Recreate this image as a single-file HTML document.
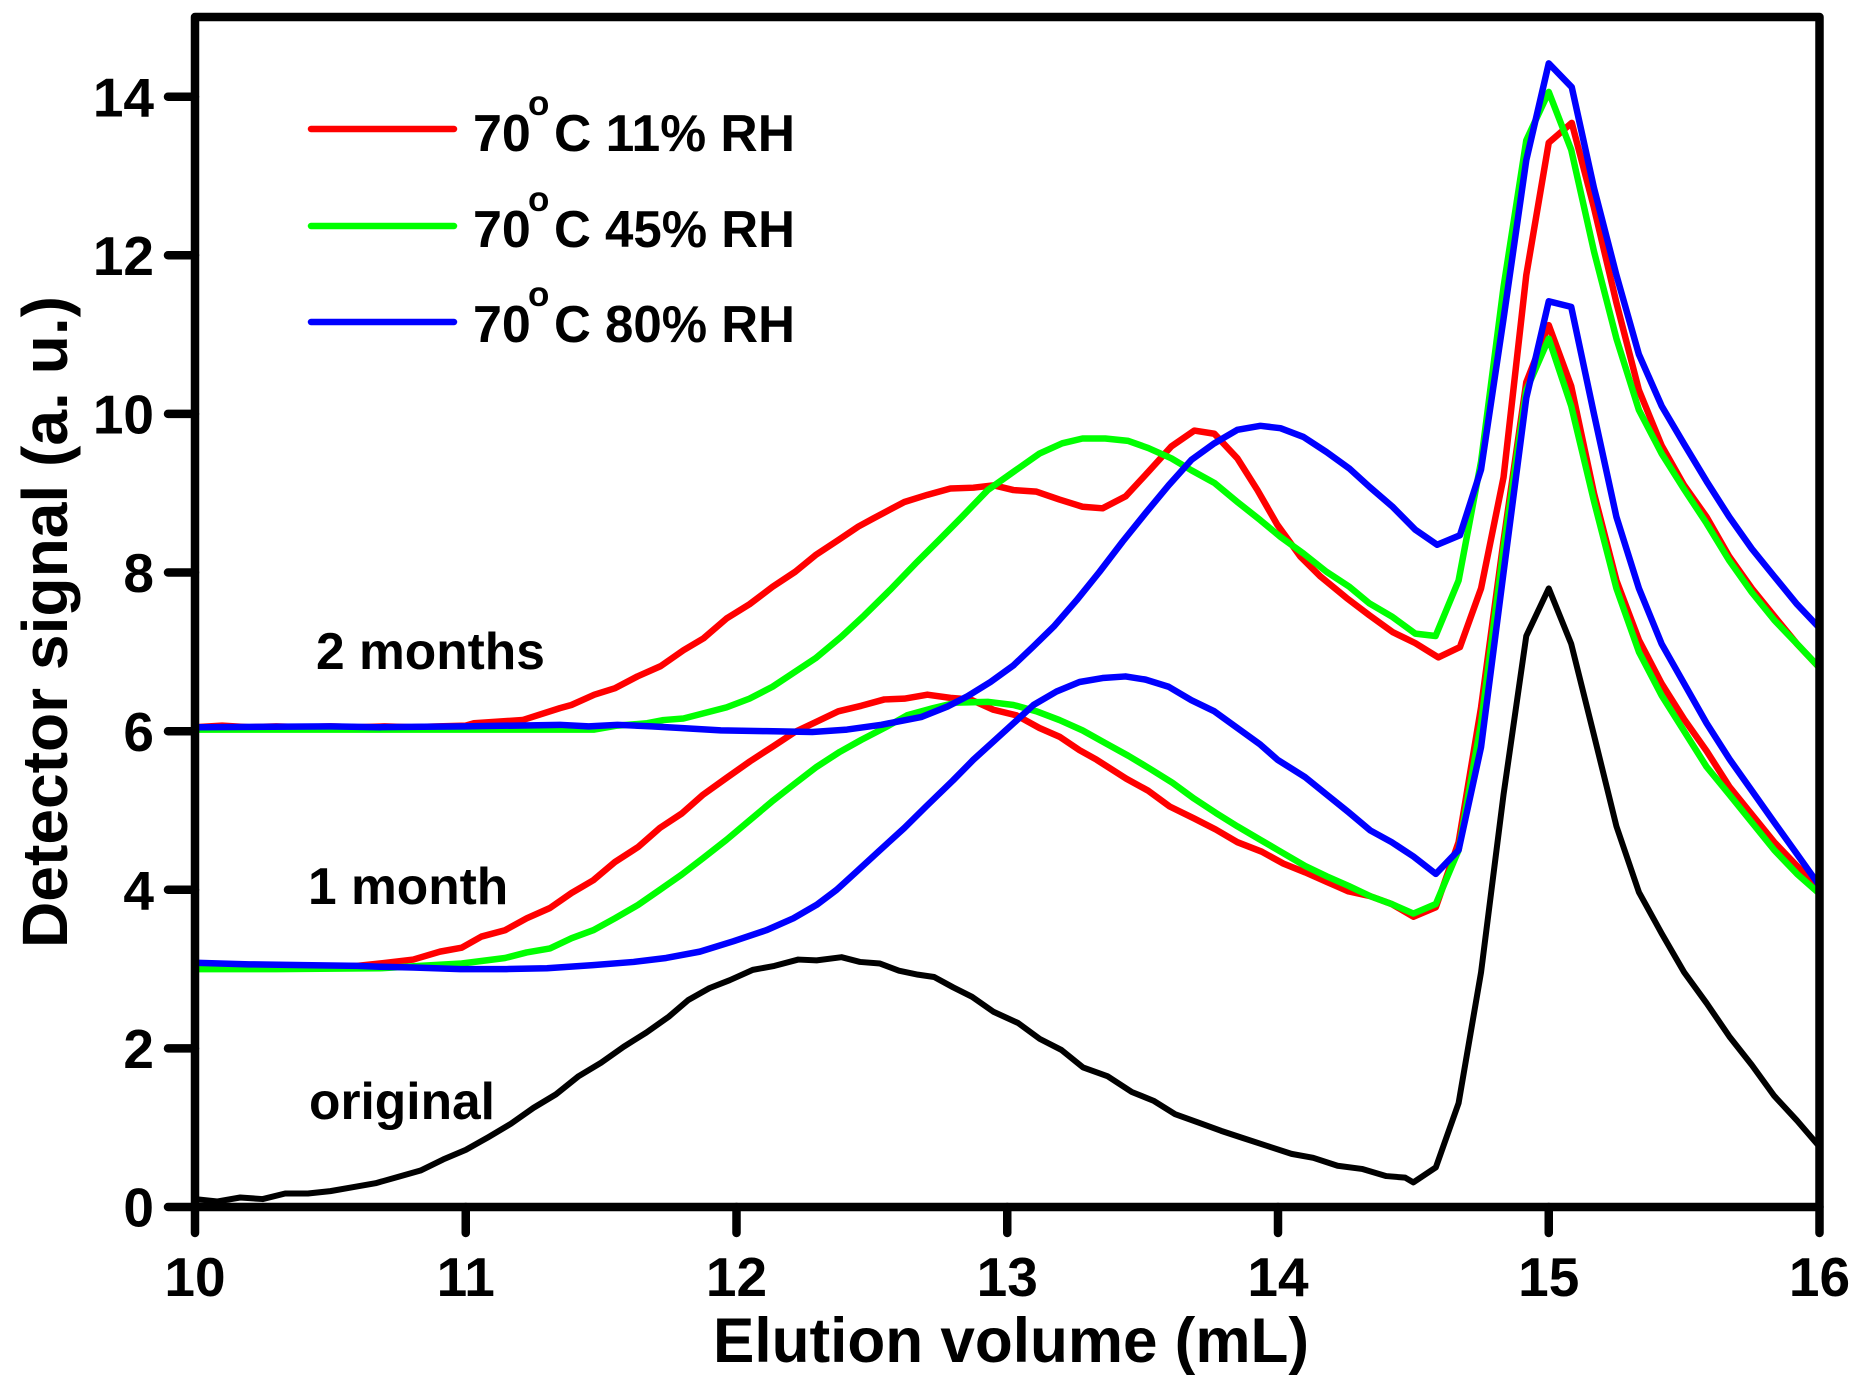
<!DOCTYPE html>
<html>
<head>
<meta charset="utf-8">
<style>
  html, body { margin: 0; padding: 0; background: #ffffff; }
  body { width: 1870px; height: 1386px; overflow: hidden; }
  svg { display: block; }
  text { font-family: "Liberation Sans", Arial, sans-serif; font-weight: bold; fill: #000; }
</style>
</head>
<body>
<svg width="1870" height="1386" viewBox="0 0 1870 1386" xmlns="http://www.w3.org/2000/svg">
  <rect x="0" y="0" width="1870" height="1386" fill="#ffffff"/>

  <!-- curves -->
  <g transform="translate(195 1207) scale(270.75 -79.307)" fill="none" stroke-linejoin="round" stroke-linecap="round">
    <!-- original (black) -->
    <polyline vector-effect="non-scaling-stroke" stroke="#000000" stroke-width="6" points="0,0.1 0.083,0.07 0.167,0.12 0.25,0.1 0.333,0.17 0.417,0.17 0.5,0.2 0.583,0.25 0.667,0.3 0.75,0.38 0.833,0.46 0.917,0.6 1.0,0.72 1.083,0.88 1.167,1.05 1.25,1.25 1.333,1.42 1.417,1.65 1.5,1.82 1.583,2.02 1.667,2.2 1.75,2.4 1.822,2.61 1.9,2.76 1.975,2.86 2.06,2.99 2.14,3.04 2.228,3.12 2.296,3.11 2.388,3.15 2.456,3.09 2.53,3.07 2.6,2.98 2.67,2.93 2.73,2.9 2.8,2.77 2.87,2.65 2.95,2.46 3.04,2.32 3.12,2.12 3.2,1.98 3.28,1.76 3.37,1.65 3.46,1.45 3.54,1.34 3.62,1.17 3.71,1.06 3.79,0.96 3.87,0.87 3.96,0.77 4.05,0.67 4.13,0.62 4.22,0.52 4.31,0.48 4.4,0.39 4.47,0.37 4.5,0.31 4.583,0.5 4.667,1.31 4.75,2.96 4.833,5.2 4.917,7.2 5.0,7.8 5.083,7.1 5.167,5.95 5.25,4.8 5.333,3.97 5.417,3.45 5.5,2.96 5.583,2.57 5.667,2.15 5.75,1.79 5.833,1.4 5.917,1.09 6.0,0.76"/>

    <!-- 1 month -->
    <polyline vector-effect="non-scaling-stroke" stroke="#ff0000" stroke-width="6.5" points="0,3.05 0.1,3.06 0.2,3.04 0.3,3.05 0.4,3.04 0.5,3.03 0.6,3.04 0.683,3.07 0.806,3.12 0.905,3.22 0.985,3.27 1.058,3.41 1.145,3.49 1.225,3.64 1.311,3.77 1.391,3.96 1.471,4.12 1.551,4.35 1.637,4.54 1.717,4.78 1.797,4.96 1.877,5.2 1.963,5.41 2.05,5.62 2.136,5.81 2.216,5.99 2.296,6.12 2.376,6.25 2.461,6.32 2.546,6.4 2.62,6.41 2.705,6.46 2.79,6.42 2.864,6.4 2.949,6.27 3.034,6.2 3.119,6.04 3.193,5.93 3.267,5.76 3.33,5.64 3.44,5.4 3.52,5.25 3.6,5.05 3.69,4.9 3.77,4.76 3.85,4.6 3.94,4.48 4.02,4.33 4.1,4.22 4.18,4.1 4.26,3.98 4.34,3.92 4.42,3.82 4.5,3.66 4.583,3.78 4.667,4.6 4.75,6.3 4.833,8.4 4.917,10.4 5.0,11.12 5.083,10.35 5.167,9.0 5.25,7.9 5.333,7.15 5.417,6.6 5.5,6.15 5.583,5.75 5.667,5.3 5.75,4.95 5.833,4.6 5.917,4.3 6.0,4.0"/>
    <polyline vector-effect="non-scaling-stroke" stroke="#00ff00" stroke-width="6.5" points="0,3.0 0.3,3.0 0.683,3.01 0.83,3.04 0.985,3.07 1.145,3.14 1.225,3.21 1.311,3.26 1.391,3.39 1.471,3.49 1.551,3.64 1.637,3.81 1.717,4.0 1.797,4.19 1.877,4.4 1.963,4.63 2.05,4.88 2.13,5.11 2.216,5.34 2.296,5.55 2.382,5.74 2.461,5.89 2.557,6.06 2.63,6.2 2.726,6.29 2.811,6.36 2.928,6.37 3.023,6.33 3.108,6.25 3.193,6.14 3.278,6.01 3.362,5.85 3.447,5.69 3.53,5.52 3.61,5.35 3.69,5.15 3.77,4.97 3.85,4.8 3.93,4.64 4.0,4.5 4.1,4.3 4.18,4.17 4.26,4.05 4.34,3.92 4.42,3.82 4.5,3.7 4.583,3.82 4.667,4.5 4.75,6.1 4.833,8.3 4.917,10.3 5.0,10.95 5.083,10.1 5.167,8.9 5.25,7.8 5.333,7.0 5.417,6.45 5.5,6.0 5.583,5.55 5.667,5.2 5.75,4.85 5.833,4.5 5.917,4.2 6.0,3.95"/>
    <polyline vector-effect="non-scaling-stroke" stroke="#0000ff" stroke-width="6.5" points="0,3.08 0.2,3.06 0.4,3.05 0.6,3.04 0.683,3.03 0.806,3.02 0.98,3.0 1.15,3.0 1.3,3.01 1.47,3.05 1.62,3.09 1.74,3.14 1.865,3.22 1.988,3.35 2.11,3.49 2.21,3.64 2.296,3.81 2.37,4.0 2.444,4.23 2.53,4.5 2.62,4.78 2.7,5.05 2.8,5.38 2.875,5.64 2.949,5.87 3.023,6.1 3.097,6.33 3.182,6.5 3.267,6.62 3.352,6.67 3.437,6.69 3.511,6.65 3.596,6.56 3.68,6.39 3.765,6.25 3.85,6.04 3.935,5.83 3.998,5.64 4.1,5.42 4.18,5.2 4.26,4.98 4.34,4.75 4.42,4.6 4.5,4.42 4.583,4.2 4.667,4.5 4.75,5.8 4.833,8.0 4.917,10.2 5.0,11.42 5.083,11.35 5.167,10.0 5.25,8.7 5.333,7.8 5.417,7.1 5.5,6.6 5.583,6.1 5.667,5.65 5.75,5.25 5.833,4.85 5.917,4.45 6.0,4.05"/>

    <!-- 2 months -->
    <polyline vector-effect="non-scaling-stroke" stroke="#ff0000" stroke-width="6.5" points="0,6.05 0.1,6.07 0.2,6.05 0.3,6.06 0.4,6.05 0.5,6.06 0.6,6.05 0.7,6.06 0.8,6.05 0.9,6.06 1.0,6.07 1.03,6.1 1.21,6.14 1.348,6.29 1.39,6.33 1.475,6.46 1.55,6.54 1.634,6.69 1.72,6.82 1.804,7.02 1.878,7.17 1.963,7.42 2.048,7.6 2.133,7.82 2.217,8.01 2.292,8.22 2.376,8.41 2.45,8.58 2.504,8.68 2.62,8.89 2.705,8.98 2.79,9.06 2.875,9.07 2.95,9.1 3.023,9.04 3.108,9.02 3.193,8.92 3.278,8.83 3.352,8.81 3.437,8.96 3.521,9.27 3.606,9.59 3.691,9.79 3.765,9.75 3.85,9.44 3.924,9.04 3.998,8.6 4.083,8.2 4.157,7.95 4.253,7.68 4.338,7.46 4.423,7.25 4.507,7.11 4.592,6.93 4.672,7.06 4.75,7.8 4.833,9.2 4.917,11.75 5.0,13.42 5.085,13.67 5.167,12.6 5.25,11.4 5.333,10.3 5.417,9.6 5.5,9.1 5.583,8.7 5.667,8.2 5.75,7.8 5.833,7.45 5.917,7.1 6.0,6.8"/>
    <polyline vector-effect="non-scaling-stroke" stroke="#00ff00" stroke-width="6.5" points="0,6.02 0.5,6.02 1.0,6.02 1.348,6.02 1.475,6.02 1.56,6.07 1.67,6.1 1.73,6.14 1.804,6.16 1.963,6.3 2.048,6.41 2.133,6.56 2.292,6.92 2.387,7.19 2.472,7.46 2.567,7.78 2.663,8.12 2.748,8.41 2.832,8.7 2.928,9.04 3.023,9.27 3.119,9.5 3.203,9.63 3.278,9.69 3.362,9.69 3.447,9.66 3.521,9.57 3.606,9.44 3.68,9.29 3.765,9.13 3.85,8.89 3.935,8.66 4.009,8.45 4.094,8.24 4.179,8.01 4.264,7.82 4.338,7.61 4.423,7.44 4.507,7.23 4.582,7.2 4.667,7.9 4.75,9.4 4.833,11.6 4.917,13.45 5.0,14.06 5.083,13.33 5.167,12.05 5.25,10.95 5.333,10.05 5.417,9.5 5.5,9.05 5.583,8.62 5.667,8.15 5.75,7.75 5.833,7.4 5.917,7.1 6.0,6.8"/>
    <polyline vector-effect="non-scaling-stroke" stroke="#0000ff" stroke-width="6.5" points="0,6.05 0.5,6.06 0.683,6.05 1.0,6.06 1.348,6.08 1.454,6.06 1.56,6.08 1.687,6.06 1.793,6.04 1.942,6.01 2.111,6.0 2.28,5.99 2.408,6.02 2.535,6.08 2.684,6.18 2.779,6.31 2.853,6.44 2.938,6.62 3.023,6.83 3.097,7.07 3.172,7.32 3.256,7.65 3.341,8.01 3.426,8.39 3.511,8.75 3.596,9.1 3.68,9.42 3.765,9.63 3.85,9.8 3.935,9.85 4.009,9.82 4.094,9.71 4.179,9.52 4.264,9.31 4.338,9.08 4.423,8.83 4.507,8.54 4.588,8.35 4.672,8.47 4.75,9.3 4.833,11.2 4.917,13.2 5.0,14.42 5.085,14.12 5.167,12.85 5.25,11.75 5.333,10.75 5.417,10.1 5.5,9.62 5.583,9.15 5.667,8.7 5.75,8.3 5.833,7.95 5.917,7.6 6.0,7.3"/>
  </g>

  <!-- frame -->
  <rect x="195" y="17" width="1624.5" height="1190" fill="none" stroke="#000" stroke-width="8.5" stroke-linejoin="round"/>

  <!-- ticks -->
  <g stroke="#000" stroke-width="8.5" stroke-linecap="round">
    <line x1="168" y1="1207" x2="195" y2="1207"/>
    <line x1="168" y1="1048.4" x2="195" y2="1048.4"/>
    <line x1="168" y1="889.8" x2="195" y2="889.8"/>
    <line x1="168" y1="731.2" x2="195" y2="731.2"/>
    <line x1="168" y1="572.5" x2="195" y2="572.5"/>
    <line x1="168" y1="413.9" x2="195" y2="413.9"/>
    <line x1="168" y1="255.3" x2="195" y2="255.3"/>
    <line x1="168" y1="96.7" x2="195" y2="96.7"/>

    <line x1="195" y1="1207" x2="195" y2="1233"/>
    <line x1="465.75" y1="1207" x2="465.75" y2="1233"/>
    <line x1="736.5" y1="1207" x2="736.5" y2="1233"/>
    <line x1="1007.25" y1="1207" x2="1007.25" y2="1233"/>
    <line x1="1278" y1="1207" x2="1278" y2="1233"/>
    <line x1="1548.75" y1="1207" x2="1548.75" y2="1233"/>
    <line x1="1819.5" y1="1207" x2="1819.5" y2="1233"/>
  </g>

  <!-- y tick labels -->
  <g font-size="55" text-anchor="end">
    <text x="154" y="1226.7">0</text>
    <text x="154" y="1068.1">2</text>
    <text x="154" y="909.5">4</text>
    <text x="154" y="750.9">6</text>
    <text x="154" y="592.2">8</text>
    <text x="154" y="433.6">10</text>
    <text x="154" y="275">12</text>
    <text x="154" y="116.4">14</text>
  </g>

  <!-- x tick labels -->
  <g font-size="55" text-anchor="middle">
    <text x="195" y="1296">10</text>
    <text x="465.75" y="1296">11</text>
    <text x="736.5" y="1296">12</text>
    <text x="1007.25" y="1296">13</text>
    <text x="1278" y="1296">14</text>
    <text x="1548.75" y="1296">15</text>
    <text x="1819.5" y="1296">16</text>
  </g>

  <!-- axis titles -->
  <text x="1011" y="1362" font-size="63" text-anchor="middle" textLength="596" lengthAdjust="spacingAndGlyphs">Elution volume (mL)</text>
  <text transform="translate(67 622) rotate(-90)" x="0" y="0" font-size="64" text-anchor="middle" textLength="652" lengthAdjust="spacingAndGlyphs">Detector signal (a. u.)</text>

  <!-- legend -->
  <g stroke-width="6.5" stroke-linecap="round">
    <line x1="311" y1="129" x2="454" y2="129" stroke="#ff0000"/>
    <line x1="311" y1="226" x2="454" y2="226" stroke="#00ff00"/>
    <line x1="311" y1="322" x2="454" y2="322" stroke="#0000ff"/>
  </g>
  <g font-size="52">
    <text x="473" y="151">70</text>
    <text x="528" y="115" font-size="35">o</text>
    <text x="554" y="151" textLength="241" lengthAdjust="spacingAndGlyphs">C 11% RH</text>

    <text x="473" y="247">70</text>
    <text x="528" y="211" font-size="35">o</text>
    <text x="554" y="247" textLength="241" lengthAdjust="spacingAndGlyphs">C 45% RH</text>

    <text x="473" y="342">70</text>
    <text x="528" y="306" font-size="35">o</text>
    <text x="554" y="342" textLength="241" lengthAdjust="spacingAndGlyphs">C 80% RH</text>
  </g>

  <!-- annotations -->
  <g font-size="51.5">
    <text x="316" y="669">2 months</text>
    <text x="308" y="904">1 month</text>
    <text x="309" y="1119">original</text>
  </g>
</svg>
</body>
</html>
